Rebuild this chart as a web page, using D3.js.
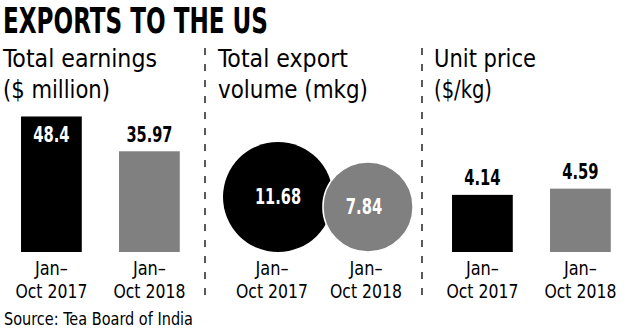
<!DOCTYPE html>
<html><head><meta charset="utf-8">
<script src="https://cdn.jsdelivr.net/npm/d3@7"></script>
<style>html,body{margin:0;padding:0;background:#fff}svg{display:block}</style>
</head><body>
<script>
// ---- data ----
const title = "EXPORTS TO THE US";
const panelTitles = [["Total earnings", "($ million)"], ["Total export", "volume (mkg)"], ["Unit price", "($/kg)"]];
const categories = ["Jan–Oct 2017", "Jan–Oct 2018"];
const earnings = [48.4, 35.97];
const volume = [11.68, 7.84];
const unitPrice = [4.14, 4.59];
const source = "Source: Tea Board of India";
const colors = ["#000000", "#808080"];

// ---- layout ----
const W = 642, H = 329;
const FONT = "'Liberation Sans Narrow','DejaVu Sans Condensed','Noto Sans',sans-serif";
const svg = d3.select("body").append("svg").attr("width", W).attr("height", H);
const baseY = 252;

function fit(sel, w) { sel.attr("textLength", w).attr("lengthAdjust", "spacingAndGlyphs"); return sel; }
function valueWidth(s) { return s.length * 9.6 - 2; }

// title
fit(svg.append("text").attr("x", 3).attr("y", 33).text(title)
  .attr("font-family", FONT).attr("font-weight", "bold").attr("font-size", 35).attr("fill", "#000"), 265);

// panel titles
const ptX = [3, 218, 434];
const ptW = [[154, 107], [130, 150], [102, 58]];
panelTitles.forEach((lines, i) => {
  lines.forEach((t, j) => {
    fit(svg.append("text").attr("x", ptX[i]).attr("y", 67 + j * 31).text(t)
      .attr("font-family", FONT).attr("font-size", 24).attr("fill", "#000"), ptW[i][j]);
  });
});

// dividers
[205, 422].forEach(x => {
  svg.append("line").attr("x1", x).attr("x2", x).attr("y1", 48).attr("y2", 300)
    .attr("stroke", "#000").attr("stroke-width", 1.3).attr("stroke-dasharray", "7,9");
});

function catLabels(g, xs) {
  categories.forEach((c, i) => {
    const [l1, l2] = c.split("–");
    fit(g.append("text").attr("x", xs[i]).attr("y", 275).attr("text-anchor", "middle").text(l1 + "–")
      .attr("font-family", FONT).attr("font-size", 20).attr("fill", "#000"), 33);
    fit(g.append("text").attr("x", xs[i]).attr("y", 298).attr("text-anchor", "middle").text(l2)
      .attr("font-family", FONT).attr("font-size", 20).attr("fill", "#000"), 72);
  });
}

function valueText(sel) {
  sel.attr("text-anchor", "middle").attr("font-family", FONT).attr("font-weight", "bold").attr("font-size", 21)
    .text(d => String(d))
    .attr("textLength", d => valueWidth(String(d))).attr("lengthAdjust", "spacingAndGlyphs");
}

function barPanel(values, range, maxDomain, topPx, fixedLabelY) {
  const x = d3.scaleBand().domain(categories).range(range).paddingInner(0.38).paddingOuter(0.19);
  const y = d3.scaleLinear().domain([0, maxDomain]).range([baseY, topPx]);
  const g = svg.append("g");
  g.selectAll("rect").data(values).join("rect")
    .attr("x", (d, i) => x(categories[i])).attr("width", x.bandwidth())
    .attr("y", d => y(d)).attr("height", d => baseY - y(d))
    .attr("fill", (d, i) => colors[i]);
  g.selectAll("text.v").data(values).join("text").attr("class", "v")
    .attr("x", (d, i) => x(categories[i]) + x.bandwidth() / 2)
    .attr("y", d => fixedLabelY != null ? fixedLabelY : y(d) - 10)
    .attr("fill", (d, i) => (fixedLabelY != null && y(d) < fixedLabelY - 18) ? "#fff" : "#000")
    .call(valueText);
  catLabels(g, categories.map(c => x(c) + x.bandwidth() / 2));
}

barPanel(earnings, [2.4, 198.4], 50, 112, 142);
barPanel(unitPrice, [433.4, 629.4], 5, 183, null);

// bubble panel
const r = d3.scaleSqrt().domain([0, d3.max(volume)]).range([0, 55]);
const cx = d3.scalePoint().domain(categories).range([278, 368]);
const g2 = svg.append("g");
g2.selectAll("circle").data(volume).join("circle")
  .attr("cx", (d, i) => cx(categories[i])).attr("cy", d => baseY - r(d)).attr("r", d => r(d))
  .attr("fill", (d, i) => colors[i]).attr("stroke", (d, i) => i ? "#fff" : "none").attr("stroke-width", 1.5);
g2.selectAll("text.v").data(volume).join("text").attr("class", "v")
  .attr("x", (d, i) => cx(categories[i]) - (i ? 4 : 0)).attr("y", d => baseY - r(d) + 7)
  .attr("fill", "#fff").call(valueText);
catLabels(g2, [272, 366]);

// source
fit(svg.append("text").attr("x", 4).attr("y", 325).text(source)
  .attr("font-family", FONT).attr("font-size", 17).attr("fill", "#000"), 189);
</script>
</body></html>
